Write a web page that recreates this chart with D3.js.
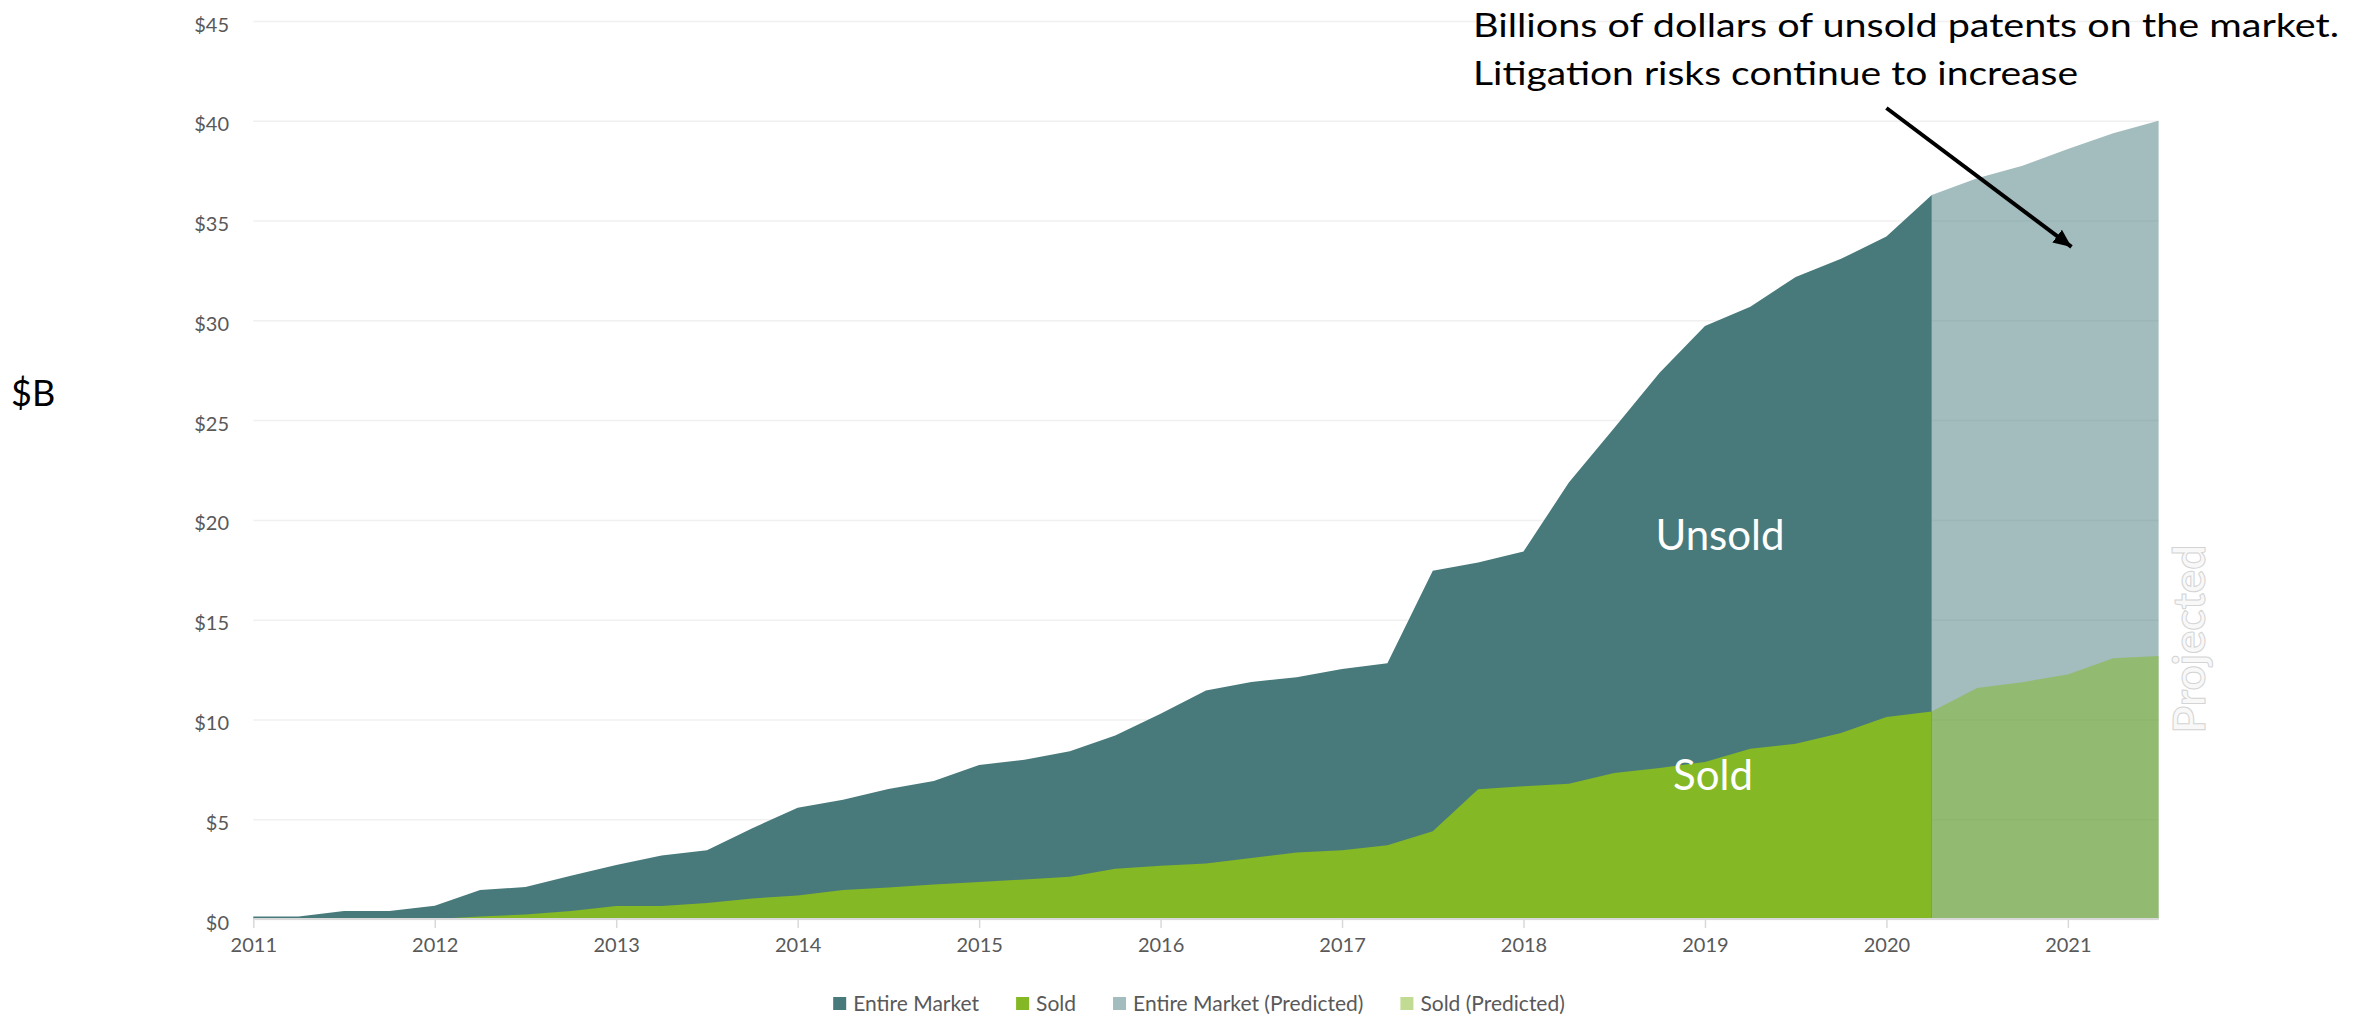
<!DOCTYPE html>
<html>
<head>
<meta charset="utf-8">
<script src="https://cdn.jsdelivr.net/npm/d3@7"></script>
<style>
  html, body { margin: 0; padding: 0; background: #ffffff; }
  svg { display: block; font-family: "Lato", "Open Sans", sans-serif; }
</style>
</head>
<body>
<svg id="chart" width="2369" height="1018"></svg>
<script>
// Quarter start labels (quarterly observations)
const quarters = [
  "2011Q1","2011Q2","2011Q3","2011Q4",
  "2012Q1","2012Q2","2012Q3","2012Q4",
  "2013Q1","2013Q2","2013Q3","2013Q4",
  "2014Q1","2014Q2","2014Q3","2014Q4",
  "2015Q1","2015Q2","2015Q3","2015Q4",
  "2016Q1","2016Q2","2016Q3","2016Q4",
  "2017Q1","2017Q2","2017Q3","2017Q4",
  "2018Q1","2018Q2","2018Q3","2018Q4",
  "2019Q1","2019Q2","2019Q3","2019Q4",
  "2020Q1","2020Q2"
];
const predictedQuarters = ["2020Q2","2020Q3","2020Q4","2021Q1","2021Q2","2021Q3"];

// $B, cumulative value
const entireMarket = [
  0.12, 0.12, 0.40, 0.40,
  0.67, 1.45, 1.60, 2.17,
  2.70, 3.18, 3.45, 4.55,
  5.58, 5.98, 6.52, 6.92,
  7.72, 7.98, 8.40, 9.20,
  10.28, 11.45, 11.88, 12.12,
  12.53, 12.82, 17.45, 17.87,
  18.42, 21.87, 24.60, 27.37,
  29.72, 30.68, 32.17, 33.08,
  34.20, 36.28
];
const sold = [
  0, 0, 0, 0,
  0, 0.12, 0.23, 0.40,
  0.65, 0.65, 0.80, 1.03,
  1.18, 1.45, 1.58, 1.73,
  1.85, 1.98, 2.12, 2.52,
  2.67, 2.78, 3.06, 3.33,
  3.45, 3.70, 4.40, 6.50,
  6.65, 6.78, 7.32, 7.57,
  7.87, 8.53, 8.78, 9.32,
  10.12, 10.40
];
const entireMarketPredicted = [36.28, 37.12, 37.75, 38.58, 39.37, 40.00];
const soldPredicted = [10.40, 11.58, 11.87, 12.25, 13.07, 13.18];

const yearTicks = [2011, 2012, 2013, 2014, 2015, 2016, 2017, 2018, 2019, 2020, 2021];
const valueTicks = [0, 5, 10, 15, 20, 25, 30, 35, 40, 45];

const seriesNames = ["Entire Market", "Sold", "Entire Market (Predicted)", "Sold (Predicted)"];
const seriesColors = ["#487a7b", "#84b825", "#487a7b", "#84b825"];
const seriesOpacity = [1, 1, 0.5, 0.5];

// "2014Q3" -> 2014.5
const quarterToYear = q => +q.slice(0, 4) + (+q.slice(5) - 1) / 4;

const svg = d3.select("#chart");
const plot = { left: 253.3, right: 2158.6, top: 21, bottom: 919 };

const x = d3.scaleLinear().domain([2011, 2021.5]).range([plot.left, plot.right]);
const y = d3.scaleLinear().domain([0, 45]).range([plot.bottom, plot.top]);

const tickColor = "#595959";

// Horizontal gridlines
const gridAxis = d3.axisLeft(y).tickValues(valueTicks)
  .tickSize(-(plot.right - plot.left)).tickFormat("");
const grid = svg.append("g").attr("transform", `translate(${plot.left},0)`).call(gridAxis);
grid.select(".domain").remove();
grid.selectAll("line").attr("stroke", "#f0f0f0").attr("stroke-width", 1.5);

// Value labels
const yAxis = d3.axisLeft(y).tickValues(valueTicks).tickSize(0).tickPadding(0)
  .tickFormat(d => "$" + d);
const yg = svg.append("g").attr("transform", "translate(229,0)").call(yAxis);
yg.select(".domain").remove();
yg.selectAll("text")
  .attr("fill", tickColor).attr("font-size", 20)
  .attr("font-family", "Lato, 'Open Sans', sans-serif")
  .attr("dy", "0.5em");

// Areas
const area = d3.area().x(d => x(d[0])).y0(y(0)).y1(d => y(d[1]));
const pair = (qs, vs) => qs.map((q, i) => [quarterToYear(q), vs[i]]);

const layers = [
  { data: pair(quarters, entireMarket), idx: 0 },
  { data: pair(quarters, sold), idx: 1 },
  { data: pair(predictedQuarters, entireMarketPredicted), idx: 2 },
  { data: pair(predictedQuarters, soldPredicted), idx: 3 }
];
svg.append("g").selectAll("path").data(layers).join("path")
  .attr("d", d => area(d.data))
  .attr("fill", d => seriesColors[d.idx])
  .attr("fill-opacity", d => seriesOpacity[d.idx]);

// Time axis
const xAxis = d3.axisBottom(x).tickValues(yearTicks).tickSize(9).tickPadding(10)
  .tickFormat(d3.format("d"));
const xg = svg.append("g").attr("transform", `translate(0,${plot.bottom})`).call(xAxis);
xg.select(".domain").attr("stroke", "#d9d9d9").attr("stroke-width", 2)
  .attr("d", `M${plot.left},0H${plot.right}`);
xg.selectAll(".tick line").attr("stroke", "#d9d9d9").attr("stroke-width", 1.5);
xg.selectAll("text").attr("fill", tickColor).attr("font-size", 20)
  .attr("font-family", "Lato, 'Open Sans', sans-serif");

// Unit label
svg.append("text").attr("x", 11).attr("y", 406)
  .attr("font-size", 36).attr("fill", "#000").text("$B");

// In-area labels
svg.append("text").attr("x", 1720).attr("y", 550).attr("text-anchor", "middle")
  .attr("font-size", 42).attr("fill", "#ffffff").text("Unsold");
svg.append("text").attr("x", 1713).attr("y", 790).attr("text-anchor", "middle")
  .attr("font-size", 42).attr("fill", "#ffffff").text("Sold");

// Projection marker
svg.append("text")
  .attr("transform", "translate(2205,639) rotate(-90)")
  .attr("text-anchor", "middle")
  .attr("font-size", 44).attr("font-weight", 700)
  .attr("fill", "#f8f8f8").attr("stroke", "#d4d4d4").attr("stroke-width", 1)
  .text("Projected");

// Callout
const callout = svg.append("g").attr("font-size", 33).attr("fill", "#000");
callout.append("text").attr("x", 1473).attr("y", 37)
  .attr("textLength", 866).attr("lengthAdjust", "spacingAndGlyphs")
  .text("Billions of dollars of unsold patents on the market.");
callout.append("text").attr("x", 1473).attr("y", 85)
  .attr("textLength", 605).attr("lengthAdjust", "spacingAndGlyphs")
  .text("Litigation risks continue to increase");

svg.append("defs").append("marker")
  .attr("id", "arrowhead").attr("markerUnits", "userSpaceOnUse")
  .attr("markerWidth", 20).attr("markerHeight", 20)
  .attr("refX", 18).attr("refY", 8).attr("orient", "auto")
  .append("path").attr("d", "M0,0L18,8L0,16Z").attr("fill", "#000");

const arrowFrom = [2020.0, 40.64], arrowTo = [2021.02, 33.68];
svg.append("line")
  .attr("x1", x(arrowFrom[0])).attr("y1", y(arrowFrom[1]))
  .attr("x2", x(arrowTo[0])).attr("y2", y(arrowTo[1]))
  .attr("stroke", "#000").attr("stroke-width", 4)
  .attr("marker-end", "url(#arrowhead)");

// Legend
const legend = svg.append("g");
let lx = 0;
seriesNames.forEach((name, i) => {
  const item = legend.append("g").attr("transform", `translate(${lx},0)`);
  item.append("rect").attr("x", 0).attr("y", -14).attr("width", 13).attr("height", 13)
    .attr("fill", seriesColors[i]).attr("fill-opacity", seriesOpacity[i]);
  const t = item.append("text").attr("x", 20).attr("y", 0)
    .attr("font-size", 21).attr("fill", tickColor).text(name);
  lx += 20 + t.node().getComputedTextLength() + 37;
});
const legendWidth = lx - 37;
legend.attr("transform", `translate(${1199 - legendWidth / 2},1011)`);
</script>
</body>
</html>
